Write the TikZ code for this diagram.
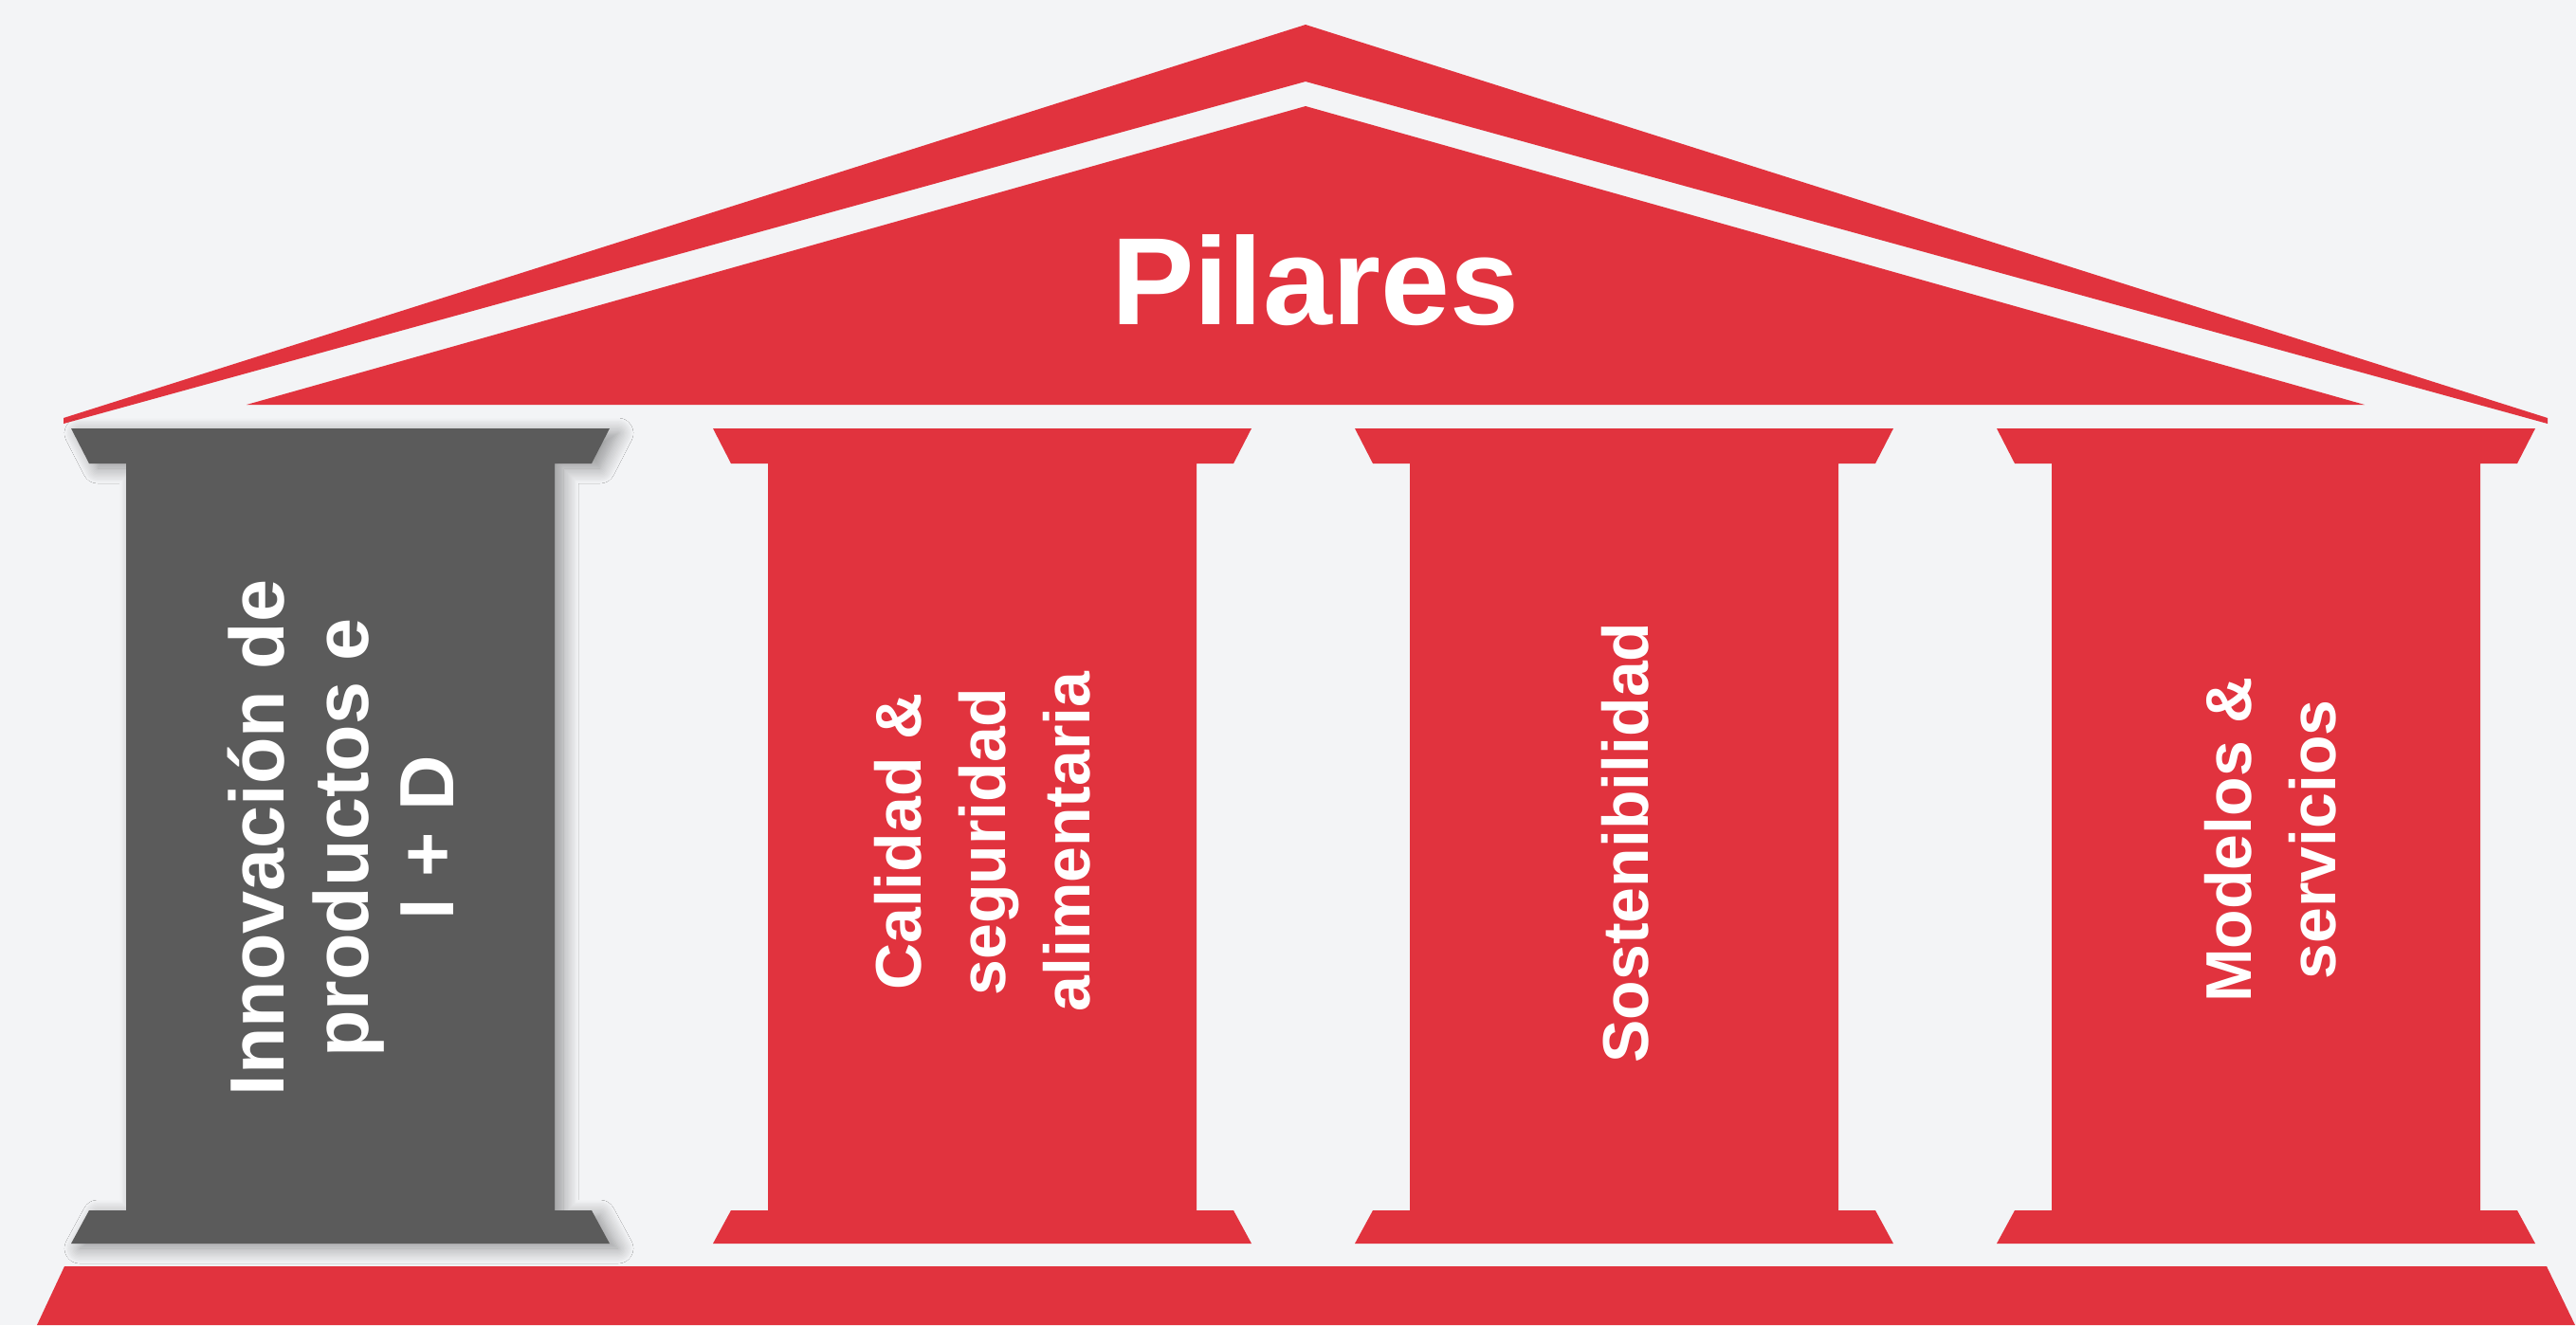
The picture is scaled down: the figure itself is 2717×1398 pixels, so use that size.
\documentclass[tikz,border=0pt]{standalone}
\usepackage{fontspec}
\setmainfont{Liberation Sans}
\usetikzlibrary{shadows.blur}
\definecolor{pred}{RGB}{225,51,62}
\definecolor{pgrey}{RGB}{91,91,91}
\definecolor{pbg}{RGB}{243,244,246}
\newcommand\drawpillar[2]{%
  \fill[#2] ({#1-284},452) -- ({#1+284},452) -- ({#1+265},489) -- ({#1+226},489)
    -- ({#1+226},1277) -- ({#1+265},1277) -- ({#1+284},1312) -- ({#1-284},1312)
    -- ({#1-265},1277) -- ({#1-226},1277) -- ({#1-226},489) -- ({#1-265},489) -- cycle;}
\tikzset{
  redfill/.style={fill=pred},
  greyfill/.style={fill=pgrey, blur shadow={shadow xshift=9pt, shadow yshift=-5pt,
      shadow blur radius=16pt, shadow blur steps=12, shadow opacity=40}},
  bigtext/.style={inner sep=0pt, text=white, align=center, rotate=90,
      font=\bfseries\fontsize{81}{89.5}\selectfont},
  coltext/.style={inner sep=0pt, text=white, align=center, rotate=90,
      font=\bfseries\fontsize{68}{89}\selectfont},
  titletext/.style={inner sep=0pt, text=white, anchor=base,
      font=\bfseries\fontsize{131}{140}\selectfont}
}
\begin{document}
\begin{tikzpicture}[x=1pt,y=-1pt]
\useasboundingbox (0,0) rectangle (2717,1398);
\fill[pbg] (0,0) rectangle (2717,1398);
% roof outer band
\fill[redfill] (67,441) -- (1377,26) -- (2687,441) -- (2687,447) -- (1377,86) -- (67,447) -- cycle;
% roof inner triangle
\fill[redfill] (260,427) -- (1377,112) -- (2494,427) -- cycle;
% columns
\drawpillar{359}{greyfill}
\drawpillar{1036}{redfill}
\drawpillar{1713}{redfill}
\drawpillar{2390}{redfill}
% platform
\fill[redfill] (68,1336) -- (2686,1336) -- (2716,1398) -- (39,1398) -- cycle;
% texts
\node[titletext] (title) at (1387,342) {Pilares};
\node[bigtext] (t1) at (359,884) {Innovación de\\productos e\\I + D};
\node[coltext] (t2) at (1036,888) {Calidad \&\\seguridad\\alimentaria};
\node[coltext] (t3) at (1714,889) {Sostenibilidad};
\node[coltext] (t4) at (2395,886) {Modelos \&\\servicios};
\end{tikzpicture}
\end{document}
